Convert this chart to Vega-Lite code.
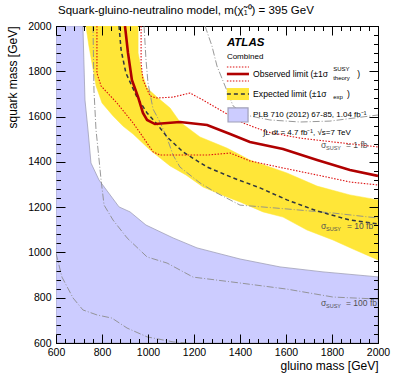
{
 "$schema": "https://vega.github.io/schema/vega-lite/v6.json",
 "width": 322, "height": 317,
 "autosize": {"type": "none"},
 "padding": {"left": 56, "top": 26, "right": 21, "bottom": 36},
 "title": {"text": "Squark-gluino-neutralino model,  m(χ̃₁⁰) = 395 GeV", "anchor": "start", "frame": "group", "fontSize": 11.5, "font": "Liberation Sans", "fontWeight": "normal", "color": "black", "offset": 5, "dx": 2},
 "config": {
  "view": {"stroke": "black", "strokeWidth": 1},
  "axis": {"grid": false, "domain": false, "format": "d", "labelFont": "Liberation Sans", "labelFontSize": 10.5, "labelColor": "black", "labelFlush": false, "titleFont": "Liberation Sans", "titleFontSize": 12, "titleFontWeight": "normal", "titleColor": "black"},
  "text": {"font": "Liberation Sans"}
 },
 "datasets": {
  "plb": [{"gl":600,"sq":2000},{"gl":717,"sq":2000},{"gl":726,"sq":1673},{"gl":739,"sq":1541},{"gl":752,"sq":1395},{"gl":787,"sq":1320},{"gl":874,"sq":1201},{"gl":922,"sq":1179},{"gl":991,"sq":1121},{"gl":1109,"sq":1064},{"gl":1213,"sq":1020},{"gl":1400,"sq":971},{"gl":1574,"sq":936},{"gl":1761,"sq":914},{"gl":2000,"sq":892}],
  "band": [{"gl":730,"sq":2000},{"gl":743,"sq":1912},{"gl":761,"sq":1810},{"gl":774,"sq":1735},{"gl":800,"sq":1660},{"gl":848,"sq":1603},{"gl":891,"sq":1558},{"gl":935,"sq":1523},{"gl":1009,"sq":1452},{"gl":1096,"sq":1382},{"gl":1165,"sq":1342},{"gl":1239,"sq":1289},{"gl":1343,"sq":1245},{"gl":1400,"sq":1223},{"gl":1500,"sq":1179},{"gl":1587,"sq":1156},{"gl":1691,"sq":1099},{"gl":1804,"sq":1055},{"gl":1891,"sq":1015},{"gl":2000,"sq":967},
           {"gl":2000,"sq":1232},{"gl":1878,"sq":1254},{"gl":1735,"sq":1293},{"gl":1604,"sq":1351},{"gl":1443,"sq":1408},{"gl":1343,"sq":1461},{"gl":1226,"sq":1510},{"gl":1139,"sq":1576},{"gl":1096,"sq":1638},{"gl":1039,"sq":1686},{"gl":996,"sq":1726},{"gl":974,"sq":1792},{"gl":957,"sq":1881},{"gl":957,"sq":2000}],
  "sig": [{"c":"1","gl":1248,"sq":2000},{"c":"1","gl":1278,"sq":1912},{"c":"1","gl":1300,"sq":1823},{"c":"1","gl":1335,"sq":1735},{"c":"1","gl":1370,"sq":1647},{"c":"1","gl":1422,"sq":1607},{"c":"1","gl":1530,"sq":1585},{"c":"1","gl":1661,"sq":1576},{"c":"1","gl":1791,"sq":1580},{"c":"1","gl":1900,"sq":1594},{"c":"1","gl":2000,"sq":1607},
          {"c":"10","gl":983,"sq":2000},{"c":"10","gl":991,"sq":1854},{"c":"10","gl":1000,"sq":1748},{"c":"10","gl":1022,"sq":1633},{"c":"10","gl":1052,"sq":1576},{"c":"10","gl":1083,"sq":1505},{"c":"10","gl":1109,"sq":1430},{"c":"10","gl":1139,"sq":1377},{"c":"10","gl":1226,"sq":1307},{"c":"10","gl":1291,"sq":1267},{"c":"10","gl":1357,"sq":1232},{"c":"10","gl":1400,"sq":1209},{"c":"10","gl":1604,"sq":1192},{"c":"10","gl":1804,"sq":1174},{"c":"10","gl":2000,"sq":1152},
          {"c":"100","gl":761,"sq":2000},{"c":"100","gl":765,"sq":1717},{"c":"100","gl":774,"sq":1541},{"c":"100","gl":783,"sq":1452},{"c":"100","gl":796,"sq":1320},{"c":"100","gl":809,"sq":1209},{"c":"100","gl":848,"sq":1143},{"c":"100","gl":909,"sq":1064},{"c":"100","gl":996,"sq":980},{"c":"100","gl":1083,"sq":953},{"c":"100","gl":1196,"sq":891},{"c":"100","gl":1400,"sq":865},{"c":"100","gl":1604,"sq":838},{"c":"100","gl":1804,"sq":803},{"c":"100","gl":2000,"sq":794},
          {"c":"1000","gl":600,"sq":997},{"c":"1000","gl":626,"sq":891},{"c":"1000","gl":674,"sq":799},{"c":"1000","gl":717,"sq":746},{"c":"1000","gl":778,"sq":724},{"c":"1000","gl":843,"sq":710},{"c":"1000","gl":909,"sq":666},{"c":"1000","gl":996,"sq":627},{"c":"1000","gl":1109,"sq":605},{"c":"1000","gl":1170,"sq":600}],
  "exp": [{"gl":874,"sq":2000},{"gl":883,"sq":1894},{"gl":904,"sq":1792},{"gl":952,"sq":1686},{"gl":996,"sq":1616},{"gl":1039,"sq":1567},{"gl":1083,"sq":1510},{"gl":1152,"sq":1444},{"gl":1257,"sq":1377},{"gl":1370,"sq":1329},{"gl":1487,"sq":1285},{"gl":1604,"sq":1232},{"gl":1735,"sq":1183},{"gl":1878,"sq":1143},{"gl":2000,"sq":1126}],
  "obs": [{"gl":900,"sq":2000},{"gl":913,"sq":1881},{"gl":930,"sq":1762},{"gl":957,"sq":1686},{"gl":978,"sq":1616},{"gl":996,"sq":1585},{"gl":1030,"sq":1567},{"gl":1139,"sq":1576},{"gl":1257,"sq":1563},{"gl":1357,"sq":1523},{"gl":1443,"sq":1488},{"gl":1587,"sq":1457},{"gl":1735,"sq":1408},{"gl":1878,"sq":1364},{"gl":2000,"sq":1338}],
  "obsb": [{"b":"up","gl":970,"sq":2000},{"b":"up","gl":970,"sq":1837},{"b":"up","gl":978,"sq":1762},{"b":"up","gl":1009,"sq":1691},{"b":"up","gl":1035,"sq":1682},{"b":"up","gl":1109,"sq":1686},{"b":"up","gl":1183,"sq":1704},{"b":"up","gl":1239,"sq":1673},{"b":"up","gl":1313,"sq":1629},{"b":"up","gl":1413,"sq":1572},{"b":"up","gl":1517,"sq":1532},{"b":"up","gl":1661,"sq":1505},{"b":"up","gl":1804,"sq":1488},{"b":"up","gl":2000,"sq":1466},
           {"b":"dn","gl":778,"sq":2000},{"b":"dn","gl":778,"sq":1792},{"b":"dn","gl":796,"sq":1735},{"b":"dn","gl":865,"sq":1660},{"b":"dn","gl":935,"sq":1572},{"b":"dn","gl":978,"sq":1510},{"b":"dn","gl":1022,"sq":1444},{"b":"dn","gl":1052,"sq":1430},{"b":"dn","gl":1257,"sq":1430},{"b":"dn","gl":1357,"sq":1439},{"b":"dn","gl":1443,"sq":1404},{"b":"dn","gl":1587,"sq":1373},{"b":"dn","gl":1735,"sq":1342},{"b":"dn","gl":1878,"sq":1311},{"b":"dn","gl":2000,"sq":1298}]
 },
 "resolve": {"axis": {"x": "independent", "y": "independent"}},
 "layer": [
  {"data": {"name": "plb"}, "mark": {"type": "point", "opacity": 0},
   "encoding": {"x": {"field": "gl", "type": "quantitative", "scale": {"domain": [600, 2000], "nice": false, "zero": false}, "axis": {"orient": "bottom", "zindex": 1, "offset": -9, "values": [600, 800, 1000, 1200, 1400, 1600, 1800, 2000], "ticks": true, "tickColor": "black", "tickWidth": 1, "tickSize": 9, "labelPadding": 4, "title": "gluino mass [GeV]", "titleAnchor": "end", "titlePadding": 3}},
                "y": {"field": "sq", "type": "quantitative", "scale": {"domain": [600, 2000], "nice": false, "zero": false}, "axis": {"orient": "left", "zindex": 1, "offset": -9, "values": [600, 800, 1000, 1200, 1400, 1600, 1800, 2000], "ticks": true, "tickColor": "black", "tickWidth": 1, "tickSize": 9, "labelPadding": 5, "title": "squark mass [GeV]", "titleAnchor": "end", "titlePadding": 8}}}},
  {"data": {"name": "plb"}, "mark": {"type": "point", "opacity": 0},
   "encoding": {"x": {"field": "gl", "type": "quantitative", "axis": {"orient": "bottom", "zindex": 1, "offset": -4.5, "values": [600,640,680,720,760,800,840,880,920,960,1000,1040,1080,1120,1160,1200,1240,1280,1320,1360,1400,1440,1480,1520,1560,1600,1640,1680,1720,1760,1800,1840,1880,1920,1960,2000], "ticks": true, "tickColor": "black", "tickWidth": 1, "tickSize": 4.5, "labels": false, "title": null}},
                "y": {"field": "sq", "type": "quantitative", "axis": {"orient": "left", "zindex": 1, "offset": -4.5, "values": [600,640,680,720,760,800,840,880,920,960,1000,1040,1080,1120,1160,1200,1240,1280,1320,1360,1400,1440,1480,1520,1560,1600,1640,1680,1720,1760,1800,1840,1880,1920,1960,2000], "ticks": true, "tickColor": "black", "tickWidth": 1, "tickSize": 4.5, "labels": false, "title": null}}}},
  {"data": {"name": "plb"}, "mark": {"type": "point", "opacity": 0},
   "encoding": {"x": {"field": "gl", "type": "quantitative", "axis": {"orient": "top", "zindex": 1, "offset": -9, "values": [600, 800, 1000, 1200, 1400, 1600, 1800, 2000], "ticks": true, "tickColor": "black", "tickWidth": 1, "tickSize": 9, "labels": false, "title": null}},
                "y": {"field": "sq", "type": "quantitative", "axis": {"orient": "right", "zindex": 1, "offset": -9, "values": [600, 800, 1000, 1200, 1400, 1600, 1800, 2000], "ticks": true, "tickColor": "black", "tickWidth": 1, "tickSize": 9, "labels": false, "title": null}}}},
  {"data": {"name": "plb"}, "mark": {"type": "point", "opacity": 0},
   "encoding": {"x": {"field": "gl", "type": "quantitative", "axis": {"orient": "top", "zindex": 1, "offset": -4.5, "values": [600,640,680,720,760,800,840,880,920,960,1000,1040,1080,1120,1160,1200,1240,1280,1320,1360,1400,1440,1480,1520,1560,1600,1640,1680,1720,1760,1800,1840,1880,1920,1960,2000], "ticks": true, "tickColor": "black", "tickWidth": 1, "tickSize": 4.5, "labels": false, "title": null}},
                "y": {"field": "sq", "type": "quantitative", "axis": {"orient": "right", "zindex": 1, "offset": -4.5, "values": [600,640,680,720,760,800,840,880,920,960,1000,1040,1080,1120,1160,1200,1240,1280,1320,1360,1400,1440,1480,1520,1560,1600,1640,1680,1720,1760,1800,1840,1880,1920,1960,2000], "ticks": true, "tickColor": "black", "tickWidth": 1, "tickSize": 4.5, "labels": false, "title": null}}}},
  {"data": {"name": "plb"}, "mark": {"type": "area", "fill": "#ccccff", "stroke": "#a0a0b8", "strokeWidth": 0.8, "clip": true},
   "encoding": {"x": {"field": "gl", "type": "quantitative", "axis": null},
                "y": {"field": "sq", "type": "quantitative", "axis": null},
                "y2": {"datum": 600}}},
  {"data": {"name": "band"}, "mark": {"type": "line", "fill": "#ffe638", "stroke": "#ffe638", "strokeWidth": 0.5, "clip": true},
   "encoding": {"x": {"field": "gl", "type": "quantitative", "axis": null}, "y": {"field": "sq", "type": "quantitative", "axis": null}, "order": {"value": null}}},
  {"data": {"name": "sig"}, "mark": {"type": "line", "stroke": "#8c8c8c", "strokeWidth": 0.9, "strokeDash": [7, 2, 1, 2], "clip": true},
   "encoding": {"x": {"field": "gl", "type": "quantitative", "axis": null}, "y": {"field": "sq", "type": "quantitative", "axis": null}, "detail": {"field": "c"}, "order": {"value": null}}},
  {"data": {"name": "exp"}, "mark": {"type": "line", "stroke": "#2e3440", "strokeWidth": 1.5, "strokeDash": [4, 3], "clip": true},
   "encoding": {"x": {"field": "gl", "type": "quantitative", "axis": null}, "y": {"field": "sq", "type": "quantitative", "axis": null}, "order": {"value": null}}},
  {"data": {"name": "obsb"}, "mark": {"type": "line", "stroke": "#dd1010", "strokeWidth": 1.1, "strokeDash": [1.5, 1.5], "clip": true},
   "encoding": {"x": {"field": "gl", "type": "quantitative", "axis": null}, "y": {"field": "sq", "type": "quantitative", "axis": null}, "detail": {"field": "b"}, "order": {"value": null}}},
  {"data": {"name": "obs"}, "mark": {"type": "line", "stroke": "#b00000", "strokeWidth": 2.6, "clip": true},
   "encoding": {"x": {"field": "gl", "type": "quantitative", "axis": null}, "y": {"field": "sq", "type": "quantitative", "axis": null}, "order": {"value": null}}},
  {"data": {"values": [{"gl": 1343, "gl2": 1439, "sq": 1673, "sq2": 1726}]}, "mark": {"type": "rect", "fill": "#ffe638"},
   "encoding": {"x": {"field": "gl", "type": "quantitative", "axis": null}, "x2": {"field": "gl2"}, "y": {"field": "sq", "type": "quantitative", "axis": null}, "y2": {"field": "sq2"}}},
  {"data": {"values": [{"gl": 1348, "gl2": 1435, "sq": 1576, "sq2": 1638}]}, "mark": {"type": "rect", "fill": "#ccccff", "stroke": "#a0a0b8", "strokeWidth": 1.2},
   "encoding": {"x": {"field": "gl", "type": "quantitative", "axis": null}, "x2": {"field": "gl2"}, "y": {"field": "sq", "type": "quantitative", "axis": null}, "y2": {"field": "sq2"}}},
  {"data": {"values": [{"gl": 1343, "gl2": 1439, "sq": 1700}]}, "mark": {"type": "rule", "stroke": "#2e3440", "strokeWidth": 1.5, "strokeDash": [4, 3]},
   "encoding": {"x": {"field": "gl", "type": "quantitative", "axis": null}, "x2": {"field": "gl2"}, "y": {"field": "sq", "type": "quantitative", "axis": null}}},
  {"data": {"values": [{"gl": 1343, "gl2": 1439, "sq": 1819}, {"gl": 1343, "gl2": 1439, "sq": 1757}]}, "mark": {"type": "rule", "stroke": "#dd1010", "strokeWidth": 1.1, "strokeDash": [1.5, 1.5]},
   "encoding": {"x": {"field": "gl", "type": "quantitative", "axis": null}, "x2": {"field": "gl2"}, "y": {"field": "sq", "type": "quantitative", "axis": null}}},
  {"data": {"values": [{"gl": 1343, "gl2": 1439, "sq": 1788}]}, "mark": {"type": "rule", "stroke": "#b00000", "strokeWidth": 2.6},
   "encoding": {"x": {"field": "gl", "type": "quantitative", "axis": null}, "x2": {"field": "gl2"}, "y": {"field": "sq", "type": "quantitative", "axis": null}}},
  {"data": {"values": [{"gl": 1343, "sq": 1925, "t": "ATLAS"}]}, "mark": {"type": "text", "align": "left", "baseline": "middle", "fontSize": 11.5, "fontWeight": "bold", "fontStyle": "italic", "font": "Liberation Sans"},
   "encoding": {"x": {"field": "gl", "type": "quantitative", "axis": null}, "y": {"field": "sq", "type": "quantitative", "axis": null}, "text": {"field": "t"}}},
  {"data": {"values": [{"gl": 1343, "sq": 1863, "t": "Combined"}]}, "mark": {"type": "text", "align": "left", "baseline": "middle", "fontSize": 8},
   "encoding": {"x": {"field": "gl", "type": "quantitative", "axis": null}, "y": {"field": "sq", "type": "quantitative", "axis": null}, "text": {"field": "t"}}},
  {"data": {"values": [{"gl": 1457, "sq": 1788, "t": "Observed limit (±1σ"}, {"gl": 1457, "sq": 1700, "t": "Expected limit (±1σ"}, {"gl": 1910, "sq": 1788, "t": ")"}, {"gl": 1865, "sq": 1700, "t": ")"}]}, "mark": {"type": "text", "align": "left", "baseline": "middle", "fontSize": 8.6},
   "encoding": {"x": {"field": "gl", "type": "quantitative", "axis": null}, "y": {"field": "sq", "type": "quantitative", "axis": null}, "text": {"field": "t"}}},
  {"data": {"values": [{"gl": 1805, "sq": 1808, "t": "SUSY"}, {"gl": 1805, "sq": 1770, "t": "theory"}, {"gl": 1805, "sq": 1686, "t": "exp"}]}, "mark": {"type": "text", "align": "left", "baseline": "middle", "fontSize": 6},
   "encoding": {"x": {"field": "gl", "type": "quantitative", "axis": null}, "y": {"field": "sq", "type": "quantitative", "axis": null}, "text": {"field": "t"}}},
  {"data": {"values": [{"gl": 1457, "sq": 1607, "t": "PLB 710 (2012) 67-85, 1.04 fb⁻¹"}, {"gl": 1500, "sq": 1527, "t": "∫L dt = 4.7 fb⁻¹, √s=7 TeV"}]}, "mark": {"type": "text", "align": "left", "baseline": "middle", "fontSize": 8},
   "encoding": {"x": {"field": "gl", "type": "quantitative", "axis": null}, "y": {"field": "sq", "type": "quantitative", "axis": null}, "text": {"field": "t"}}},
  {"data": {"values": [{"gl": 1752, "sq": 1474, "t": "σ"}, {"gl": 1861, "sq": 1474, "t": "= 1 fb"}, {"gl": 1752, "sq": 1117, "t": "σ"}, {"gl": 1865, "sq": 1117, "t": "= 10 fb"}, {"gl": 1752, "sq": 777, "t": "σ"}, {"gl": 1861, "sq": 777, "t": "= 100 fb"}]}, "mark": {"type": "text", "align": "left", "baseline": "middle", "fontSize": 8.5, "color": "#505050"},
   "encoding": {"x": {"field": "gl", "type": "quantitative", "axis": null}, "y": {"field": "sq", "type": "quantitative", "axis": null}, "text": {"field": "t"}}},
  {"data": {"values": [{"gl": 1774, "sq": 1461, "t": "SUSY"}, {"gl": 1774, "sq": 1103, "t": "SUSY"}, {"gl": 1774, "sq": 763, "t": "SUSY"}]}, "mark": {"type": "text", "align": "left", "baseline": "middle", "fontSize": 5.5, "color": "#505050"},
   "encoding": {"x": {"field": "gl", "type": "quantitative", "axis": null}, "y": {"field": "sq", "type": "quantitative", "axis": null}, "text": {"field": "t"}}}
 ]
}
